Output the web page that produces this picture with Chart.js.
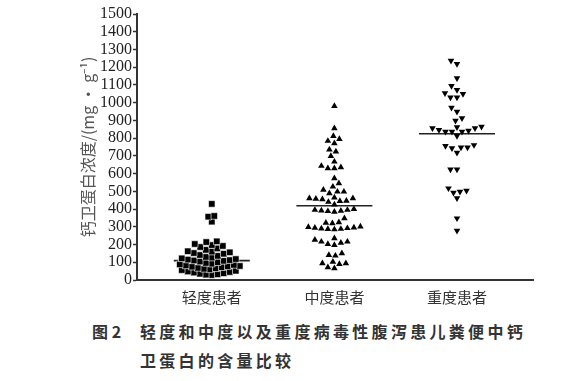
<!DOCTYPE html>
<html>
<head>
<meta charset="utf-8">
<script src="https://cdn.jsdelivr.net/npm/chart.js@4"></script>
<style>
  body { margin: 0; background: #fff; width: 571px; height: 381px; overflow: hidden; position: relative; }
  #wrap { position: absolute; left: 0; top: 0; width: 571px; height: 310px; }
  .cap { position: absolute; font-family: "Noto Sans CJK SC", sans-serif; font-size: 16px; color: #333; font-weight: 600; white-space: nowrap; line-height: 20px; }
</style>
</head>
<body>
<div id="wrap"><canvas id="dotChart"></canvas></div>
<div class="cap" style="left:92px; top:321px;">图 2</div>
<div class="cap" style="left:140px; top:321px; letter-spacing:3.3px;">轻度和中度以及重度病毒性腹泻患儿粪便中钙</div>
<div class="cap" style="left:140px; top:350px; letter-spacing:3.3px;">卫蛋白的含量比较</div>
<script>
const groupNames = ['轻度患者', '中度患者', '重度患者']

const mildValues = [429, 361, 357, 329, 218, 214, 203, 197, 192, 186, 178, 170, 162, 160, 156, 152,
    148, 141, 136, 130, 126, 122, 118, 115, 112, 110, 108, 104, 100, 96, 92, 88, 85, 82, 79, 77,
    75, 72, 68, 66, 63, 60, 56, 52, 48, 45, 42, 38, 35, 32, 30, 28]

const moderateValues = [981, 855, 812, 795, 784, 771, 736, 724, 699, 667, 643, 635, 630, 630, 573,
    545, 526, 508, 498, 498, 489, 465, 461, 461, 458, 455, 447, 445, 440, 425, 400, 395, 395, 392,
    390, 388, 385, 348, 325, 322, 320, 301, 298, 296, 294, 292, 290, 288, 287, 285, 235, 226, 216,
    216, 210, 203, 197, 150, 141, 137, 103, 94, 94, 90, 72, 66]

const severeValues = [1237, 1218, 1138, 1094, 1072, 1053, 1049, 1030, 1030, 972, 949, 912, 898, 865,
    862, 856, 856, 846, 842, 836, 836, 836, 812, 761, 756, 748, 748, 743, 718, 624, 624, 517, 504,
    498, 492, 461, 348, 278]

const medianValues = [109, 419, 825]

const yTicksMax = 1500
const yStep = 100

// swarm layout: spread points sideways so markers don't sit on top of each other
const pxPerX = 122.5
const pxPerY = 266 / yTicksMax

function swarm(values, center, gap){
    const placed = []
    const sorted = [...values].sort((a, b) => a - b)
    sorted.forEach(v => {
        const py = v * pxPerY
        let k = 0
        while (true) {
            const off = (k % 2 === 0 ? 1 : -1) * Math.ceil(k / 2) * 0.5
            const ok = placed.every(p => {
                const dx = p.px - off, dy = p.py - py
                return dx * dx + dy * dy >= gap * gap
            })
            if (ok) { placed.push({px: off, py: py, v: v}); break }
            k++
        }
    })
    return placed.map(p => ({x: center + p.px / pxPerX, y: p.v}))
}

const medianLines = medianValues.map((m, i) => ({
    type: 'line',
    data: [{x: i + 1 - 0.31, y: m}, {x: i + 1 + 0.31, y: m}],
    borderColor: '#222',
    borderWidth: 1.6,
    pointRadius: 0,
    order: 0
}))

const ctx = document.getElementById('dotChart')

new Chart(ctx, {
    type: 'scatter',
    data: {
        datasets: [
            {
                data: swarm(mildValues, 1, 6),
                pointStyle: 'rect',
                pointRadius: 4.6,
                backgroundColor: '#000',
                borderColor: '#fff',
                borderWidth: 0.6
            },
            {
                data: swarm(moderateValues, 2, 6.5),
                pointStyle: 'triangle',
                pointRadius: 3.8,
                backgroundColor: '#000',
                borderColor: '#000',
                borderWidth: 0
            },
            {
                data: swarm(severeValues, 3, 6.5),
                pointStyle: 'triangle',
                rotation: 180,
                pointRadius: 3.8,
                backgroundColor: '#000',
                borderColor: '#000',
                borderWidth: 0
            },
            ...medianLines
        ]
    },
    options: {
        responsive: true,
        maintainAspectRatio: false,
        animation: false,
        layout: { padding: { left: 0, top: 14, right: 38, bottom: 0 } },
        plugins: { legend: { display: false }, tooltip: { enabled: false } },
        scales: {
            x: {
                type: 'linear',
                min: 0.39,
                max: 3.62,
                afterBuildTicks: (axis) => { axis.ticks = groupNames.map((n, i) => ({value: i + 1})) },
                afterFit: (axis) => { axis.height = 30 },
                ticks: {
                    callback: (v) => groupNames[v - 1],
                    font: { family: '"Noto Sans CJK SC"', size: 15 },
                    color: '#333',
                    padding: 8,
                    maxRotation: 0,
                    autoSkip: false
                },
                grid: { display: true, drawOnChartArea: false, drawTicks: false },
                border: { display: true, color: '#333', width: 2 }
            },
            y: {
                min: 0,
                max: yTicksMax,
                afterFit: (axis) => { axis.width = 137 },
                ticks: {
                    stepSize: yStep,
                    autoSkip: false,
                    callback: (v) => String(v),
                    font: { family: '"Liberation Serif"', size: 16 },
                    color: '#222',
                    padding: 1
                },
                grid: { display: true, drawOnChartArea: false, drawTicks: true, tickLength: 4, color: '#333', tickWidth: 1.5 },
                border: { display: true, color: '#333', width: 2 },
                title: {
                    display: true,
                    text: '钙卫蛋白浓度/(mg · g⁻¹)',
                    font: { family: '"Noto Sans CJK SC"', size: 16 },
                    color: '#555',
                    padding: { top: 78, bottom: 0 }
                }
            }
        }
    }
})
</script>
</body>
</html>
